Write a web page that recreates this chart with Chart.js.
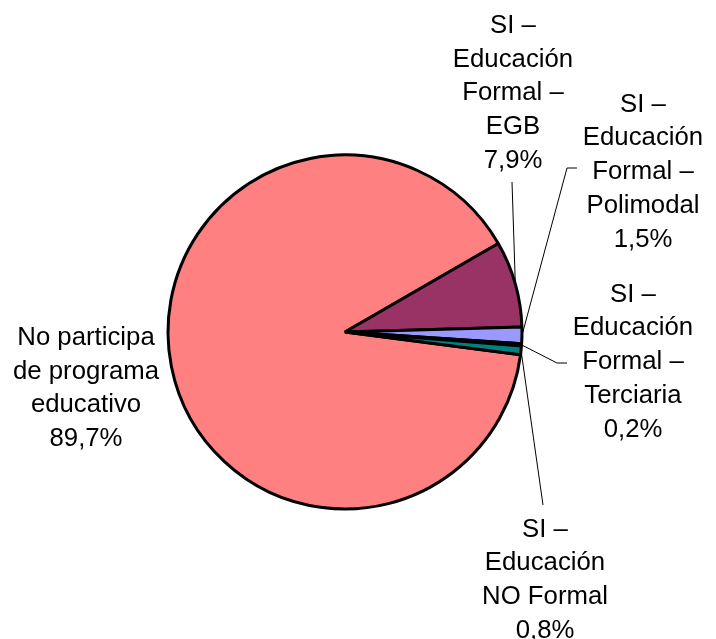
<!DOCTYPE html>
<html>
<head>
<meta charset="utf-8">
<script src="https://cdn.jsdelivr.net/npm/chart.js@4/dist/chart.umd.min.js"></script>
<style>
  html, body { margin: 0; padding: 0; background: #ffffff; }
  #wrap { width: 716px; height: 639px; }
</style>
</head>
<body>
<div id="wrap"><canvas id="c" width="716" height="639"></canvas></div>
<script>
// ---- data ----
const categories = [
  ["No participa", "de programa", "educativo"],
  ["SI –", "Educación", "Formal –", "EGB"],
  ["SI –", "Educación", "Formal –", "Polimodal"],
  ["SI –", "Educación", "Formal –", "Terciaria"],
  ["SI –", "Educación", "NO Formal"]
];
const values = [89.7, 7.9, 1.5, 0.2, 0.8];
const colors = ["#FF8080", "#993366", "#9999FF", "#FFFFCC", "#008080"];

// label placement (layout only)
const labelLayout = [
  { cx: 86,  y0: 345,   leader: null },
  { cx: 513, y0: 33,    leader: [[512, 182]] },
  { cx: 643, y0: 111.7, leader: [[567, 168], [577, 168]] },
  { cx: 633, y0: 301.7, leader: [[557, 363], [567, 363]] },
  { cx: 545, y0: 536.7, leader: [[543, 505]] }
];
const LINE_H = 33.7;
const FONT = '25px "Liberation Sans", Arial, sans-serif';
const TEXT_SX = 1.03;

function pctText(v) { return v.toFixed(1).replace('.', ',') + '%'; }

const labelPlugin = {
  id: 'outLabels',
  afterDatasetsDraw(chart) {
    const ctx = chart.ctx;
    const meta = chart.getDatasetMeta(0);
    ctx.save();
    // leader lines
    ctx.strokeStyle = '#000';
    ctx.lineWidth = 1;
    meta.data.forEach((arc, i) => {
      const lay = labelLayout[i];
      if (!lay.leader) return;
      const p = arc.getProps(['x', 'y', 'startAngle', 'endAngle', 'outerRadius'], true);
      const mid = (p.startAngle + p.endAngle) / 2;
      const sx = p.x + Math.cos(mid) * p.outerRadius;
      const sy = p.y + Math.sin(mid) * p.outerRadius;
      ctx.beginPath();
      ctx.moveTo(sx, sy);
      lay.leader.forEach(pt => ctx.lineTo(pt[0], pt[1]));
      ctx.stroke();
    });
    // texts
    ctx.fillStyle = '#000';
    ctx.font = FONT;
    ctx.textAlign = 'center';
    ctx.textBaseline = 'alphabetic';
    categories.forEach((lines, i) => {
      const lay = labelLayout[i];
      const all = lines.concat([pctText(values[i])]);
      all.forEach((t, k) => {
        ctx.save();
        ctx.translate(lay.cx, lay.y0 + k * LINE_H);
        ctx.scale(TEXT_SX, 1);
        ctx.fillText(t, 0, 0);
        ctx.restore();
      });
    });
    ctx.restore();
  }
};

new Chart(document.getElementById('c'), {
  type: 'pie',
  data: {
    labels: categories.map(l => l.join(' ')),
    datasets: [{
      data: values,
      backgroundColor: colors,
      borderColor: '#000000',
      borderWidth: 3,
      hoverOffset: 0
    }]
  },
  options: {
    responsive: false,
    animation: false,
    events: [],
    rotation: 97.4,
    radius: 177,
    layout: { padding: { left: 0, right: 26, top: 25, bottom: 0 } },
    plugins: {
      legend: { display: false },
      tooltip: { enabled: false },
      title: { display: false }
    }
  },
  plugins: [labelPlugin]
});
</script>
</body>
</html>
